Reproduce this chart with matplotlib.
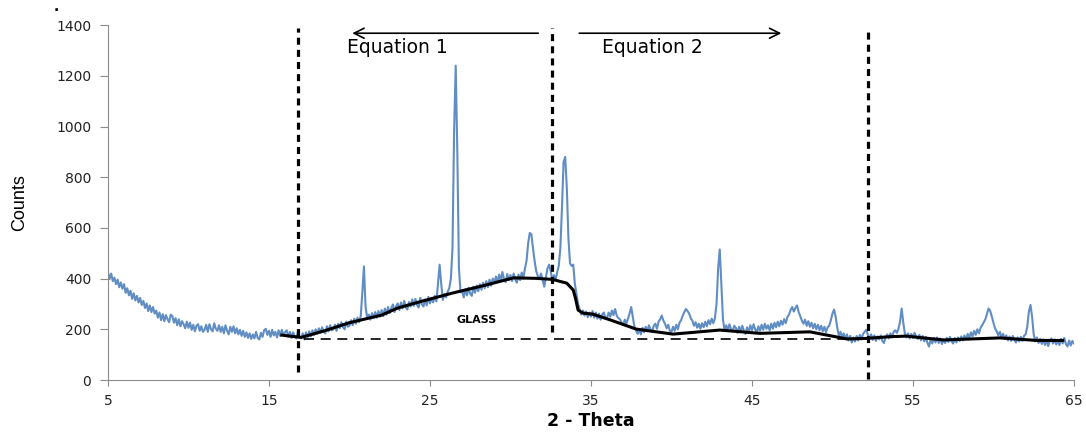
import numpy as np
import matplotlib.pyplot as plt

# 2-theta axis, 0.1 degree steps from 5 to 65
two_theta = np.round(np.arange(5.0, 65.05, 0.1), 1)

counts = [
    425, 398, 420, 390, 404, 378, 396, 366, 385, 360,   # 5
    378, 344, 362, 334, 352, 320, 342, 314, 332, 306,   # 6
    324, 296, 312, 284, 302, 272, 294, 268, 288, 262,   # 7
    274, 246, 266, 236, 260, 232, 256, 240, 228, 258,   # 8
    252, 226, 244, 216, 240, 212, 232, 220, 204, 230,   # 9
    206, 226, 198, 218, 192, 214, 220, 194, 212, 190,   # 10
    198, 218, 190, 220, 200, 192, 224, 202, 194, 216,   # 11
    190, 210, 184, 216, 194, 180, 210, 190, 212, 184,   # 12
    204, 180, 198, 174, 194, 170, 188, 166, 184, 162,   # 13
    180, 164, 190, 166, 160, 186, 170, 196, 202, 178,   # 14
    194, 170, 198, 176, 190, 168, 196, 174, 198, 178,   # 15
    188, 196, 170, 190, 166, 188, 172, 164, 192, 168,   # 16
    164, 184, 160, 188, 168, 192, 172, 196, 178, 200,   # 17
    182, 204, 186, 208, 190, 184, 212, 192, 216, 196,   # 18
    200, 218, 194, 222, 204, 228, 208, 200, 230, 210,   # 19
    214, 236, 216, 242, 222, 246, 228, 252, 345, 448,   # 20
    290, 244, 258, 238, 264, 244, 268, 246, 272, 250,   # 21
    276, 252, 282, 258, 288, 264, 284, 298, 268, 292,   # 22
    302, 276, 306, 282, 312, 286, 278, 308, 290, 318,   # 23
    292, 320, 296, 286, 324, 298, 290, 318, 294, 328,   # 24
    302, 324, 306, 332, 310, 380, 455, 380, 316, 340,   # 25
    326, 348, 362, 400, 520, 980, 1240, 900, 440, 346,  # 26
    350, 326, 358, 334, 364, 340, 332, 368, 344, 372,   # 27
    350, 378, 356, 384, 362, 390, 366, 396, 372, 400,   # 28
    382, 408, 386, 416, 390, 426, 398, 386, 418, 394,   # 29
    414, 390, 420, 396, 384, 416, 394, 424, 400, 440,   # 30
    470, 540, 580, 575, 520, 470, 430, 410, 400, 420,   # 31
    395, 368, 404, 440, 455, 430, 390, 414, 394, 424,   # 32
    450, 520, 680, 860, 880, 760, 560, 460, 450, 455,   # 33
    380, 340, 300, 278, 258, 274, 254, 270, 248, 266,   # 34
    250, 272, 246, 266, 242, 262, 238, 258, 266, 244,   # 35
    246, 266, 250, 274, 256, 280, 254, 244, 240, 226,   # 36
    218, 238, 222, 242, 262, 288, 250, 210, 196, 182,   # 37
    200, 180, 206, 188, 210, 192, 216, 200, 190, 214,   # 38
    222, 202, 230, 240, 254, 234, 222, 204, 218, 194,   # 39
    190, 210, 194, 218, 200, 226, 236, 254, 268, 280,   # 40
    272, 262, 244, 234, 214, 228, 206, 222, 202, 224,   # 41
    208, 230, 212, 236, 220, 242, 224, 244, 300, 440,   # 42
    515, 380, 240, 194, 216, 196, 220, 200, 192, 214,   # 43
    206, 186, 210, 192, 214, 194, 182, 208, 190, 216,   # 44
    196, 220, 200, 188, 212, 194, 218, 198, 222, 202,   # 45
    216, 196, 222, 202, 226, 208, 230, 212, 234, 218,   # 46
    240, 224, 248, 258, 276, 288, 270, 284, 294, 268,   # 47
    252, 234, 222, 238, 214, 232, 210, 226, 204, 222,   # 48
    200, 218, 196, 214, 192, 210, 188, 208, 214, 236,   # 49
    262, 278, 250, 206, 174, 190, 168, 184, 162, 180,   # 50
    156, 174, 148, 168, 152, 174, 156, 178, 160, 182,   # 51
    190, 198, 178, 164, 180, 158, 176, 154, 172, 160,   # 52
    176, 154, 146, 170, 180, 164, 184, 168, 190, 196,   # 53
    186, 202, 230, 282, 226, 182, 168, 184, 164, 182,   # 54
    166, 186, 172, 162, 178, 156, 174, 152, 170, 146,   # 55
    132, 162, 144, 166, 148, 168, 146, 164, 142, 160,   # 56
    146, 166, 150, 170, 152, 144, 166, 148, 168, 154,   # 57
    172, 156, 176, 160, 182, 166, 188, 172, 194, 178,   # 58
    200, 184, 206, 216, 228, 240, 262, 282, 272, 250,   # 59
    226, 204, 192, 176, 190, 168, 182, 162, 176, 156,   # 60
    172, 154, 174, 158, 148, 168, 152, 170, 154, 174,   # 61
    180, 210, 270, 296, 250, 180, 152, 168, 146, 162,   # 62
    142, 160, 138, 156, 134, 154, 164, 144, 160, 140,   # 63
    158, 138, 162, 144, 166, 142, 132, 156, 136, 154,   # 64
    144,                                                # 65
]

# fitted amorphous (glass) background curve
fit_x = [15.8, 17.0, 18.5, 20.0, 22.0, 23.0, 24.4, 26.4, 28.5, 30.2, 31.6, 32.6,
         33.5, 33.9, 34.05, 34.2, 34.5, 35.1, 36.2, 37.8, 40.1, 43.0, 45.5, 48.6,
         50.9, 52.1, 53.6, 54.6, 56.9, 60.4, 62.7, 64.3]
fit_y = [177, 168, 195, 226, 256, 284, 309, 343, 375, 403, 401, 397,
         382, 355, 320, 276, 264, 260, 237, 201, 181, 197, 184, 190,
         162, 164, 171, 173, 158, 166, 156, 156]

boundaries = [16.8, 32.6, 52.2]
boundary_bottom = [30, 190, 5]
glass_level = 162

fig = plt.figure(figsize=(10.86, 4.33), dpi=100)
ax = fig.add_axes([0.0994, 0.1224, 0.8895, 0.8196])

ax.plot(two_theta, counts, color='#4F81BD', lw=1.5, alpha=0.9, zorder=2)
ax.plot(fit_x, fit_y, color='black', lw=2.2, zorder=3)

ax.plot([17.2, 52.2], [glass_level, glass_level], color='black', lw=1.2,
        dashes=(6, 4), zorder=3)
for bx, by in zip(boundaries, boundary_bottom):
    ax.plot([bx, bx], [by, 1390], color='black', lw=2.3, dashes=(2.2, 1.6),
            zorder=4)

ax.annotate('', xy=(20.0, 1368), xytext=(31.9, 1368),
            arrowprops=dict(arrowstyle='->', color='black', lw=1.2,
                            mutation_scale=18))
ax.annotate('', xy=(47.0, 1368), xytext=(34.1, 1368),
            arrowprops=dict(arrowstyle='->', color='black', lw=1.2,
                            mutation_scale=18))
ax.text(22.95, 1313, 'Equation 1', ha='center', va='center', fontsize=13.5)
ax.text(38.8, 1313, 'Equation 2', ha='center', va='center', fontsize=13.5)
ax.text(27.9, 237, 'GLASS', ha='center', va='center', fontsize=8,
        fontweight='bold')

ax.set_xlim(5, 65)
ax.set_ylim(0, 1400)
ax.set_xticks(range(5, 66, 10))
ax.set_yticks(range(0, 1401, 200))
for side in ['top', 'right']:
    ax.spines[side].set_visible(False)
for side in ['left', 'bottom']:
    ax.spines[side].set_color('#8c8c8c')
ax.tick_params(colors='#8c8c8c', labelcolor='#222222', labelsize=10,
               direction='out')
ax.tick_params(axis='y', length=6, pad=6)
ax.tick_params(axis='x', length=4, pad=6)

ax.set_xlabel('2 - Theta', fontsize=12.5, fontweight='bold', labelpad=3)
ax.set_ylabel('Counts', fontsize=13, labelpad=20,
              family=['Liberation Sans Narrow', 'Liberation Sans', 'DejaVu Sans'])
fig.text(0.049, 0.975, '.', fontsize=10, fontweight='bold')

fig.savefig('out.png', dpi=100)
